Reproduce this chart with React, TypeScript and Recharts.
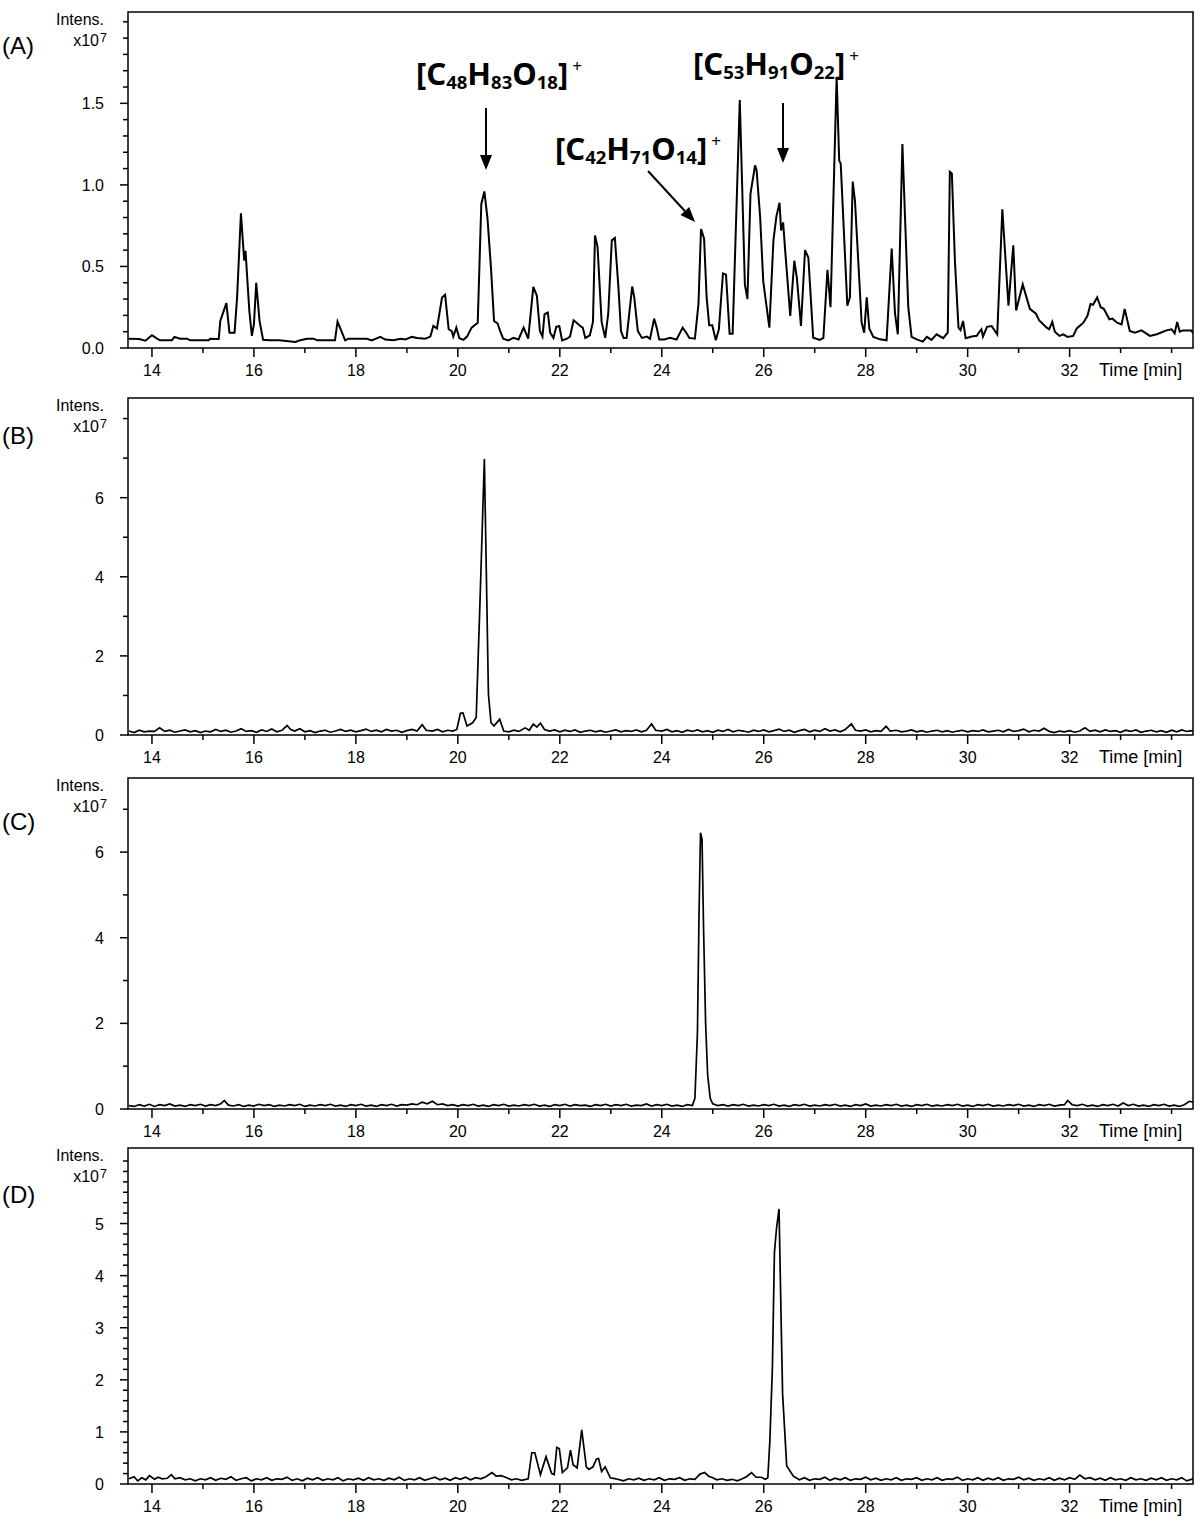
import React from 'react';
import { LineChart, Line, XAxis, YAxis, ReferenceArea } from 'recharts';

// ---------------- data (time [min], intensity x10^7) ----------------
const timeTicks = [14, 15, 16, 17, 18, 19, 20, 21, 22, 23, 24, 25, 26, 27, 28, 29, 30, 31, 32, 33, 34];
const timeLabels = [14, 16, 18, 20, 22, 24, 26, 28, 30, 32];
const timeDomain: [number, number] = [13.53, 34.42];

const ticksA = [0, 0.1, 0.2, 0.3, 0.4, 0.5, 0.6, 0.7, 0.8, 0.9, 1.0, 1.1, 1.2, 1.3, 1.4, 1.5, 1.6, 1.7, 1.8, 1.9, 2.0];
const labelsA = [0, 0.5, 1.0, 1.5];
const ticksB = [0, 1, 2, 3, 4, 5, 6, 7, 8];
const labelsB = [0, 2, 4, 6];
const ticksC = [0, 1, 2, 3, 4, 5, 6, 7];
const labelsC = [0, 2, 4, 6];
const ticksD = [0, 0.2, 0.4, 0.6, 0.8, 1, 1.2, 1.4, 1.6, 1.8, 2, 2.2, 2.4, 2.6, 2.8, 3, 3.2, 3.4, 3.6, 3.8, 4, 4.2, 4.4, 4.6, 4.8, 5, 5.2, 5.4, 5.6, 5.8, 6, 6.2];
const labelsD = [0, 1, 2, 3, 4, 5];

const seriesA: [number, number][] = [
  [13.54,0.057],[13.75,0.055],[13.87,0.045],[14.0,0.078],[14.1,0.058],[14.16,0.047],[14.39,0.047],[14.44,0.068],[14.55,0.057],[14.69,0.057],[14.75,0.047],[15.11,0.047],[15.14,0.057],[15.31,0.055],[15.34,0.166],[15.46,0.275],[15.52,0.094],[15.62,0.094],[15.67,0.31],[15.745,0.826],[15.81,0.535],[15.835,0.596],[15.91,0.227],[15.96,0.074],[16.0,0.145],[16.045,0.40],[16.11,0.166],[16.18,0.05],[16.3,0.047],[16.5,0.047],[16.81,0.037],[16.91,0.047],[17.04,0.057],[17.17,0.057],[17.24,0.047],[17.59,0.047],[17.64,0.162],[17.79,0.047],[17.855,0.057],[18.22,0.057],[18.31,0.047],[18.48,0.068],[18.575,0.052],[18.74,0.047],[18.87,0.057],[18.97,0.052],[19.10,0.068],[19.20,0.062],[19.36,0.057],[19.46,0.07],[19.52,0.135],[19.59,0.12],[19.69,0.31],[19.75,0.326],[19.82,0.115],[19.88,0.104],[19.91,0.07],[19.97,0.125],[20.03,0.06],[20.11,0.05],[20.18,0.07],[20.27,0.125],[20.39,0.155],[20.46,0.883],[20.52,0.96],[20.58,0.80],[20.65,0.49],[20.71,0.166],[20.78,0.15],[20.83,0.104],[20.89,0.057],[20.99,0.047],[21.09,0.062],[21.19,0.052],[21.29,0.125],[21.38,0.057],[21.48,0.375],[21.55,0.32],[21.61,0.104],[21.66,0.07],[21.70,0.207],[21.765,0.217],[21.81,0.094],[21.875,0.062],[21.93,0.13],[21.99,0.135],[22.045,0.047],[22.14,0.057],[22.20,0.07],[22.27,0.17],[22.33,0.155],[22.40,0.135],[22.45,0.125],[22.50,0.062],[22.59,0.078],[22.65,0.16],[22.69,0.69],[22.74,0.62],[22.82,0.16],[22.89,0.062],[22.95,0.21],[23.02,0.66],[23.08,0.675],[23.15,0.37],[23.20,0.104],[23.25,0.062],[23.31,0.062],[23.42,0.377],[23.46,0.31],[23.53,0.104],[23.61,0.062],[23.71,0.07],[23.77,0.057],[23.85,0.18],[23.90,0.125],[23.95,0.052],[24.05,0.052],[24.16,0.062],[24.29,0.052],[24.41,0.125],[24.48,0.094],[24.54,0.062],[24.65,0.057],[24.72,0.27],[24.77,0.73],[24.83,0.67],[24.88,0.31],[24.93,0.14],[24.99,0.14],[25.06,0.047],[25.12,0.115],[25.20,0.457],[25.26,0.45],[25.33,0.088],[25.39,0.088],[25.53,1.52],[25.63,0.39],[25.68,0.30],[25.74,0.945],[25.83,1.12],[25.86,1.09],[25.93,0.80],[25.99,0.41],[26.11,0.125],[26.19,0.66],[26.25,0.81],[26.31,0.89],[26.34,0.72],[26.38,0.77],[26.42,0.60],[26.52,0.197],[26.60,0.535],[26.65,0.43],[26.73,0.135],[26.81,0.60],[26.875,0.555],[26.97,0.063],[27.10,0.05],[27.17,0.062],[27.25,0.48],[27.31,0.25],[27.43,1.66],[27.48,1.15],[27.51,1.13],[27.64,0.26],[27.69,0.31],[27.745,1.02],[27.79,0.90],[27.92,0.155],[27.97,0.094],[28.02,0.31],[28.07,0.12],[28.15,0.068],[28.28,0.053],[28.41,0.047],[28.51,0.61],[28.575,0.21],[28.63,0.084],[28.72,1.25],[28.835,0.25],[28.90,0.068],[29.0,0.053],[29.12,0.039],[29.20,0.068],[29.29,0.05],[29.39,0.084],[29.52,0.06],[29.61,0.094],[29.65,1.08],[29.69,1.07],[29.75,0.535],[29.82,0.125],[29.86,0.11],[29.91,0.166],[29.96,0.06],[30.08,0.07],[30.18,0.075],[30.22,0.095],[30.27,0.115],[30.30,0.07],[30.38,0.13],[30.47,0.135],[30.58,0.084],[30.68,0.85],[30.80,0.26],[30.895,0.63],[30.95,0.23],[31.08,0.39],[31.22,0.24],[31.34,0.21],[31.40,0.17],[31.55,0.125],[31.60,0.115],[31.66,0.16],[31.71,0.10],[31.80,0.074],[31.875,0.084],[31.96,0.068],[32.07,0.074],[32.14,0.12],[32.27,0.155],[32.35,0.197],[32.41,0.27],[32.46,0.265],[32.54,0.31],[32.61,0.25],[32.67,0.24],[32.78,0.176],[32.84,0.18],[32.93,0.155],[33.02,0.145],[33.08,0.24],[33.18,0.104],[33.28,0.094],[33.41,0.108],[33.575,0.074],[33.71,0.084],[33.90,0.108],[34.0,0.115],[34.06,0.09],[34.11,0.16],[34.16,0.10],[34.22,0.108],[34.39,0.108],[34.42,0.09]
];

const seriesB: [number, number][] = [
  [13.55,0.10],[13.65,0.06],[13.75,0.12],[13.85,0.08],[13.95,0.10],[14.05,0.09],[14.15,0.18],[14.25,0.09],[14.35,0.12],[14.45,0.07],[14.55,0.10],[14.65,0.13],[14.75,0.08],[14.85,0.11],[14.95,0.06],[15.05,0.10],[15.15,0.08],[15.25,0.14],[15.35,0.09],[15.45,0.12],[15.55,0.07],[15.65,0.10],[15.75,0.16],[15.85,0.09],[15.95,0.11],[16.05,0.07],[16.15,0.13],[16.25,0.09],[16.35,0.15],[16.45,0.08],[16.55,0.12],[16.65,0.24],[16.72,0.14],[16.8,0.10],[16.9,0.16],[17.0,0.08],[17.1,0.11],[17.2,0.06],[17.3,0.10],[17.4,0.12],[17.5,0.07],[17.6,0.10],[17.7,0.14],[17.8,0.09],[17.9,0.12],[18.0,0.08],[18.1,0.11],[18.2,0.15],[18.3,0.09],[18.4,0.12],[18.5,0.08],[18.6,0.14],[18.7,0.10],[18.8,0.12],[18.9,0.07],[19.0,0.11],[19.1,0.14],[19.2,0.10],[19.3,0.26],[19.38,0.12],[19.5,0.10],[19.6,0.14],[19.7,0.08],[19.8,0.12],[19.9,0.10],[19.98,0.14],[20.05,0.55],[20.1,0.56],[20.18,0.23],[20.29,0.31],[20.36,0.44],[20.44,3.6],[20.52,6.98],[20.56,4.0],[20.6,1.03],[20.65,0.31],[20.71,0.23],[20.82,0.40],[20.9,0.10],[21.0,0.08],[21.1,0.12],[21.2,0.09],[21.32,0.18],[21.4,0.12],[21.48,0.28],[21.55,0.20],[21.62,0.30],[21.7,0.14],[21.8,0.10],[21.9,0.13],[22.0,0.08],[22.1,0.12],[22.2,0.09],[22.3,0.13],[22.4,0.07],[22.5,0.10],[22.6,0.12],[22.7,0.08],[22.8,0.11],[22.9,0.07],[23.0,0.10],[23.1,0.13],[23.2,0.08],[23.3,0.11],[23.4,0.09],[23.5,0.13],[23.6,0.08],[23.7,0.12],[23.8,0.28],[23.88,0.12],[24.0,0.10],[24.1,0.14],[24.2,0.08],[24.3,0.11],[24.4,0.07],[24.5,0.12],[24.6,0.09],[24.7,0.13],[24.8,0.08],[24.9,0.11],[25.0,0.07],[25.1,0.12],[25.2,0.09],[25.3,0.14],[25.4,0.08],[25.5,0.12],[25.6,0.10],[25.7,0.07],[25.8,0.12],[25.9,0.09],[26.0,0.13],[26.1,0.08],[26.2,0.11],[26.3,0.15],[26.4,0.09],[26.5,0.12],[26.6,0.07],[26.7,0.11],[26.8,0.14],[26.9,0.08],[27.0,0.12],[27.1,0.09],[27.2,0.16],[27.3,0.10],[27.4,0.13],[27.5,0.08],[27.6,0.14],[27.72,0.28],[27.8,0.12],[27.9,0.10],[28.0,0.13],[28.1,0.08],[28.2,0.11],[28.3,0.09],[28.4,0.22],[28.48,0.10],[28.6,0.12],[28.7,0.08],[28.8,0.10],[28.9,0.13],[29.0,0.08],[29.1,0.11],[29.2,0.07],[29.3,0.10],[29.4,0.12],[29.5,0.08],[29.6,0.11],[29.7,0.07],[29.8,0.10],[29.9,0.12],[30.0,0.08],[30.1,0.11],[30.2,0.09],[30.3,0.13],[30.4,0.08],[30.5,0.10],[30.6,0.12],[30.7,0.08],[30.8,0.14],[30.9,0.09],[31.0,0.11],[31.1,0.15],[31.2,0.08],[31.3,0.12],[31.4,0.10],[31.5,0.17],[31.6,0.09],[31.7,0.06],[31.8,0.10],[31.9,0.08],[32.0,0.11],[32.1,0.07],[32.2,0.10],[32.3,0.18],[32.4,0.09],[32.5,0.12],[32.6,0.08],[32.7,0.13],[32.8,0.09],[32.9,0.11],[33.0,0.07],[33.1,0.12],[33.2,0.09],[33.3,0.13],[33.4,0.07],[33.5,0.10],[33.6,0.12],[33.7,0.08],[33.8,0.11],[33.9,0.07],[34.0,0.12],[34.1,0.08],[34.2,0.13],[34.3,0.09],[34.42,0.11]
];

const seriesC: [number, number][] = [
  [13.55,0.08],[13.65,0.06],[13.75,0.10],[13.85,0.07],[13.95,0.11],[14.05,0.06],[14.15,0.10],[14.25,0.08],[14.35,0.12],[14.45,0.07],[14.55,0.09],[14.65,0.06],[14.75,0.10],[14.85,0.08],[14.95,0.11],[15.05,0.07],[15.15,0.10],[15.25,0.08],[15.35,0.12],[15.42,0.20],[15.5,0.09],[15.6,0.07],[15.7,0.10],[15.8,0.06],[15.9,0.09],[16.0,0.07],[16.1,0.11],[16.2,0.08],[16.3,0.10],[16.4,0.06],[16.5,0.09],[16.6,0.07],[16.7,0.10],[16.8,0.08],[16.9,0.11],[17.0,0.06],[17.1,0.09],[17.2,0.07],[17.3,0.10],[17.4,0.08],[17.5,0.11],[17.6,0.07],[17.7,0.09],[17.8,0.06],[17.9,0.10],[18.0,0.08],[18.1,0.11],[18.2,0.07],[18.3,0.09],[18.4,0.06],[18.5,0.10],[18.6,0.08],[18.7,0.11],[18.8,0.07],[18.9,0.10],[19.0,0.09],[19.1,0.12],[19.2,0.10],[19.3,0.16],[19.4,0.12],[19.5,0.18],[19.6,0.10],[19.7,0.12],[19.8,0.08],[19.9,0.10],[20.0,0.07],[20.1,0.10],[20.2,0.08],[20.3,0.11],[20.4,0.07],[20.5,0.09],[20.6,0.06],[20.7,0.10],[20.8,0.08],[20.9,0.11],[21.0,0.07],[21.1,0.09],[21.2,0.07],[21.3,0.10],[21.4,0.08],[21.5,0.11],[21.6,0.07],[21.7,0.09],[21.8,0.06],[21.9,0.10],[22.0,0.08],[22.1,0.11],[22.2,0.07],[22.3,0.10],[22.4,0.08],[22.5,0.09],[22.6,0.06],[22.7,0.10],[22.8,0.08],[22.9,0.11],[23.0,0.07],[23.1,0.10],[23.2,0.08],[23.3,0.11],[23.4,0.07],[23.5,0.09],[23.6,0.08],[23.7,0.12],[23.8,0.07],[23.9,0.10],[24.0,0.08],[24.1,0.11],[24.2,0.07],[24.3,0.09],[24.4,0.06],[24.5,0.10],[24.6,0.08],[24.65,0.25],[24.7,1.8],[24.73,4.5],[24.76,6.45],[24.79,6.3],[24.82,4.2],[24.86,2.0],[24.9,0.8],[24.95,0.25],[25.0,0.12],[25.1,0.08],[25.2,0.10],[25.3,0.07],[25.4,0.10],[25.5,0.08],[25.6,0.11],[25.7,0.07],[25.8,0.09],[25.9,0.07],[26.0,0.10],[26.1,0.08],[26.2,0.11],[26.3,0.07],[26.4,0.09],[26.5,0.06],[26.6,0.10],[26.7,0.08],[26.8,0.11],[26.9,0.07],[27.0,0.09],[27.1,0.07],[27.2,0.10],[27.3,0.08],[27.4,0.11],[27.5,0.07],[27.6,0.09],[27.7,0.06],[27.8,0.10],[27.9,0.08],[28.0,0.12],[28.1,0.07],[28.2,0.09],[28.3,0.07],[28.4,0.10],[28.5,0.08],[28.6,0.11],[28.7,0.07],[28.8,0.09],[28.9,0.06],[29.0,0.10],[29.1,0.08],[29.2,0.11],[29.3,0.07],[29.4,0.09],[29.5,0.07],[29.6,0.10],[29.7,0.08],[29.8,0.11],[29.9,0.07],[30.0,0.09],[30.1,0.06],[30.2,0.10],[30.3,0.08],[30.4,0.11],[30.5,0.07],[30.6,0.09],[30.7,0.07],[30.8,0.10],[30.9,0.08],[31.0,0.11],[31.1,0.07],[31.2,0.09],[31.3,0.06],[31.4,0.10],[31.5,0.08],[31.6,0.11],[31.7,0.07],[31.8,0.09],[31.9,0.10],[31.96,0.20],[32.05,0.10],[32.15,0.08],[32.25,0.11],[32.35,0.07],[32.45,0.09],[32.55,0.06],[32.65,0.10],[32.75,0.08],[32.85,0.11],[32.95,0.07],[33.05,0.14],[33.15,0.08],[33.25,0.11],[33.35,0.07],[33.45,0.09],[33.55,0.06],[33.65,0.10],[33.75,0.08],[33.85,0.11],[33.95,0.07],[34.05,0.09],[34.15,0.06],[34.25,0.10],[34.35,0.18],[34.42,0.16]
];

const seriesD: [number, number][] = [
  [13.55,0.10],[13.65,0.14],[13.72,0.06],[13.8,0.12],[13.88,0.08],[13.95,0.16],[14.05,0.09],[14.12,0.13],[14.2,0.10],[14.3,0.11],[14.38,0.18],[14.45,0.10],[14.55,0.12],[14.65,0.08],[14.75,0.10],[14.85,0.06],[14.95,0.10],[15.05,0.08],[15.15,0.12],[15.25,0.07],[15.35,0.11],[15.45,0.09],[15.55,0.14],[15.65,0.07],[15.75,0.10],[15.85,0.12],[15.95,0.06],[16.05,0.10],[16.15,0.08],[16.25,0.12],[16.35,0.07],[16.45,0.10],[16.55,0.09],[16.65,0.13],[16.75,0.07],[16.85,0.10],[16.95,0.06],[17.05,0.11],[17.15,0.08],[17.25,0.12],[17.35,0.07],[17.45,0.10],[17.55,0.08],[17.65,0.12],[17.75,0.06],[17.85,0.10],[17.95,0.08],[18.05,0.11],[18.15,0.07],[18.25,0.12],[18.35,0.08],[18.45,0.10],[18.55,0.07],[18.65,0.11],[18.75,0.08],[18.85,0.13],[18.95,0.07],[19.05,0.10],[19.15,0.08],[19.25,0.12],[19.35,0.07],[19.45,0.10],[19.55,0.13],[19.65,0.08],[19.75,0.11],[19.85,0.07],[19.95,0.12],[20.05,0.09],[20.15,0.13],[20.25,0.08],[20.35,0.12],[20.45,0.10],[20.55,0.14],[20.67,0.22],[20.75,0.15],[20.85,0.16],[20.96,0.12],[21.05,0.08],[21.15,0.10],[21.25,0.07],[21.38,0.10],[21.45,0.60],[21.51,0.60],[21.62,0.18],[21.73,0.525],[21.84,0.20],[21.89,0.18],[21.94,0.70],[21.99,0.68],[22.05,0.22],[22.15,0.31],[22.21,0.65],[22.26,0.37],[22.34,0.31],[22.43,1.04],[22.52,0.33],[22.57,0.28],[22.65,0.33],[22.72,0.48],[22.76,0.49],[22.82,0.24],[22.89,0.33],[22.99,0.12],[23.1,0.10],[23.25,0.06],[23.35,0.10],[23.45,0.08],[23.55,0.11],[23.65,0.07],[23.75,0.10],[23.85,0.08],[23.95,0.12],[24.05,0.07],[24.15,0.10],[24.25,0.09],[24.35,0.12],[24.45,0.07],[24.55,0.10],[24.65,0.09],[24.75,0.19],[24.84,0.22],[24.92,0.15],[25.0,0.12],[25.08,0.08],[25.18,0.10],[25.28,0.07],[25.38,0.09],[25.48,0.06],[25.58,0.10],[25.66,0.14],[25.76,0.22],[25.85,0.13],[25.95,0.13],[26.03,0.09],[26.08,0.12],[26.12,0.83],[26.17,2.24],[26.21,4.45],[26.25,4.9],[26.3,5.28],[26.34,3.2],[26.37,1.73],[26.45,0.35],[26.58,0.15],[26.7,0.08],[26.8,0.12],[26.9,0.07],[27.0,0.10],[27.1,0.09],[27.2,0.13],[27.3,0.07],[27.4,0.11],[27.5,0.08],[27.6,0.12],[27.7,0.07],[27.8,0.10],[27.9,0.09],[28.0,0.13],[28.1,0.08],[28.2,0.11],[28.3,0.07],[28.4,0.10],[28.5,0.08],[28.6,0.12],[28.7,0.07],[28.8,0.10],[28.9,0.09],[29.0,0.12],[29.1,0.07],[29.2,0.10],[29.3,0.08],[29.4,0.12],[29.5,0.07],[29.6,0.10],[29.7,0.09],[29.8,0.13],[29.9,0.07],[30.0,0.10],[30.1,0.08],[30.2,0.12],[30.3,0.07],[30.4,0.11],[30.5,0.08],[30.6,0.12],[30.7,0.07],[30.8,0.10],[30.9,0.09],[31.0,0.13],[31.1,0.08],[31.2,0.11],[31.3,0.07],[31.4,0.10],[31.5,0.08],[31.6,0.12],[31.7,0.07],[31.8,0.11],[31.9,0.08],[32.0,0.12],[32.1,0.09],[32.2,0.17],[32.3,0.10],[32.4,0.12],[32.5,0.08],[32.6,0.11],[32.7,0.07],[32.8,0.12],[32.9,0.08],[33.0,0.10],[33.1,0.07],[33.2,0.12],[33.3,0.08],[33.4,0.10],[33.5,0.07],[33.6,0.11],[33.7,0.08],[33.8,0.12],[33.9,0.07],[34.0,0.10],[34.1,0.08],[34.2,0.12],[34.3,0.06],[34.42,0.10]
];

// ---------------- rendering ----------------
const FONT = '"Liberation Sans", Arial, sans-serif';
const BOLD_FONT = '"Noto Sans", "Open Sans", sans-serif';
const PLOT_LEFT = 128;
const PLOT_RIGHT_MARGIN = 7;
const TOP_PAD = 10;
const X_AXIS_H = 40;

type Panel = {
  key: string; data: [number, number][]; top: number; bottom: number; yMax: number;
  yTicks: number[]; yLabels: number[]; fmt: (v: number) => string; stroke: number; letterY: number;
};

const panels: Panel[] = [
  { key: 'A', data: seriesA, top: 12, bottom: 348, yMax: 2.06, yTicks: ticksA, yLabels: labelsA, fmt: (v) => v.toFixed(1), stroke: 2, letterY: 54 },
  { key: 'B', data: seriesB, top: 398, bottom: 735, yMax: 8.52, yTicks: ticksB, yLabels: labelsB, fmt: (v) => String(v), stroke: 1.7, letterY: 444 },
  { key: 'C', data: seriesC, top: 778, bottom: 1109, yMax: 7.73, yTicks: ticksC, yLabels: labelsC, fmt: (v) => String(v), stroke: 1.7, letterY: 830 },
  { key: 'D', data: seriesD, top: 1148, bottom: 1484, yMax: 6.45, yTicks: ticksD, yLabels: labelsD, fmt: (v) => String(v), stroke: 1.7, letterY: 1203 },
];

const near = (list: number[], v: number) => list.some((l) => Math.abs(l - v) < 1e-6);

const XTick = (props: any) => {
  const { x, y, payload } = props;
  const v = payload.value as number;
  const major = near(timeLabels, v);
  return (
    <g>
      <line x1={x} x2={x} y1={y} y2={y + (major ? 9 : 5)} stroke="#000" strokeWidth={1.5} />
      {major && (
        <text x={x} y={y + 28} textAnchor="middle" fontSize={16} fontFamily={FONT} fill="#000">
          {v}
        </text>
      )}
    </g>
  );
};

const makeYTick = (labels: number[], fmt: (v: number) => string) => (props: any) => {
  const { x, y, payload } = props;
  const v = payload.value as number;
  const major = near(labels, v);
  return (
    <g>
      <line x1={x - (major ? 8 : 5)} x2={x} y1={y} y2={y} stroke="#000" strokeWidth={1.5} />
      {major && (
        <text x={x - 24} y={y + 6} textAnchor="end" fontSize={16} fontFamily={FONT} fill="#000">
          {fmt(v)}
        </text>
      )}
    </g>
  );
};

const PanelChart = ({ p }: { p: Panel }) => {
  const rows = p.data.map(([t, v]) => ({ t, v }));
  const h = p.bottom - p.top + TOP_PAD + X_AXIS_H;
  return (
    <div style={{ position: 'absolute', left: 0, top: p.top - TOP_PAD }}>
      <LineChart width={1200} height={h} data={rows} margin={{ top: TOP_PAD, right: PLOT_RIGHT_MARGIN, bottom: 0, left: 0 }}>
        <XAxis
          dataKey="t" type="number" domain={timeDomain} allowDataOverflow ticks={timeTicks} interval={0}
          tick={<XTick />} tickLine={false} axisLine={false} tickSize={0} tickMargin={0} height={X_AXIS_H}
        />
        <YAxis
          type="number" domain={[0, p.yMax]} allowDataOverflow ticks={p.yTicks} interval={0}
          tick={makeYTick(p.yLabels, p.fmt)} tickLine={false} axisLine={false} tickSize={0} tickMargin={0} width={PLOT_LEFT}
        />
        <ReferenceArea x1={timeDomain[0]} x2={timeDomain[1]} y1={0} y2={p.yMax} fill="none" stroke="#000" strokeWidth={1.5} ifOverflow="visible" />
        <Line type="linear" dataKey="v" stroke="#000" strokeWidth={p.stroke} dot={false} activeDot={false} isAnimationActive={false} />
      </LineChart>
    </div>
  );
};

const Formula = ({ x, y, parts }: { x: number; y: number; parts: [string, string][] }) => (
  <text x={x} y={y} fontFamily={BOLD_FONT} fontWeight="bold" fill="#000">
    {parts.map(([kind, s], i) => {
      if (kind === 'sub') return <tspan key={i} fontSize={18.5} dy={4}>{s}</tspan>;
      if (kind === 'sup') return <tspan key={i} fontSize={17} fontWeight="normal" dx={4} dy={-13}>{s}</tspan>;
      return <tspan key={i} fontSize={31} dy={i > 0 && parts[i - 1][0] === 'sub' ? -4 : 0}>{s}</tspan>;
    })}
  </text>
);

const formula = (c: string, h: string, o: string): [string, string][] => [
  ['main', '[C'], ['sub', c], ['main', 'H'], ['sub', h], ['main', 'O'], ['sub', o], ['main', ']'], ['sup', '+'],
];

const Arrow = ({ x1, y1, x2, y2 }: { x1: number; y1: number; x2: number; y2: number }) => {
  const dx = x2 - x1, dy = y2 - y1;
  const len = Math.hypot(dx, dy);
  const ux = dx / len, uy = dy / len;
  const hl = 15, hw = 6;
  const bx = x2 - ux * hl, by = y2 - uy * hl;
  return (
    <g>
      <line x1={x1} y1={y1} x2={bx} y2={by} stroke="#000" strokeWidth={2} />
      <polygon points={`${x2},${y2} ${bx - uy * hw},${by + ux * hw} ${bx + uy * hw},${by - ux * hw}`} fill="#000" />
    </g>
  );
};

const Overlay = () => (
  <svg width={1200} height={1525} style={{ position: 'absolute', left: 0, top: 0, pointerEvents: 'none' }}>
    {panels.map((p) => (
      <g key={p.key}>
        <text x={2} y={p.letterY} fontSize={24} fontFamily={FONT} fill="#000">({p.key})</text>
        <text x={104} y={p.top + 13} textAnchor="end" fontSize={16} fontFamily={FONT} fill="#000">Intens.</text>
        <text x={99} y={p.top + 34} textAnchor="end" fontSize={16} fontFamily={FONT} fill="#000">x10</text>
        <text x={100} y={p.top + 29.5} fontSize={12.5} fontFamily={FONT} fill="#000">7</text>
        <text x={1099} y={p.bottom + 28} fontSize={18} fontFamily={FONT} fill="#000">Time [min]</text>
      </g>
    ))}
    <Formula x={416} y={85} parts={formula('48', '83', '18')} />
    <Formula x={555} y={160} parts={formula('42', '71', '14')} />
    <Formula x={693} y={75} parts={formula('53', '91', '22')} />
    <Arrow x1={486} y1={108} x2={486} y2={170} />
    <Arrow x1={648} y1={171} x2={695} y2={222} />
    <Arrow x1={783} y1={103} x2={783} y2={163} />
  </svg>
);

export default function App() {
  return (
    <div style={{ position: 'absolute', left: 0, top: 0, width: 1200, height: 1525, background: '#fff' }}>
      {panels.map((p) => (
        <PanelChart key={p.key} p={p} />
      ))}
      <Overlay />
    </div>
  );
}
